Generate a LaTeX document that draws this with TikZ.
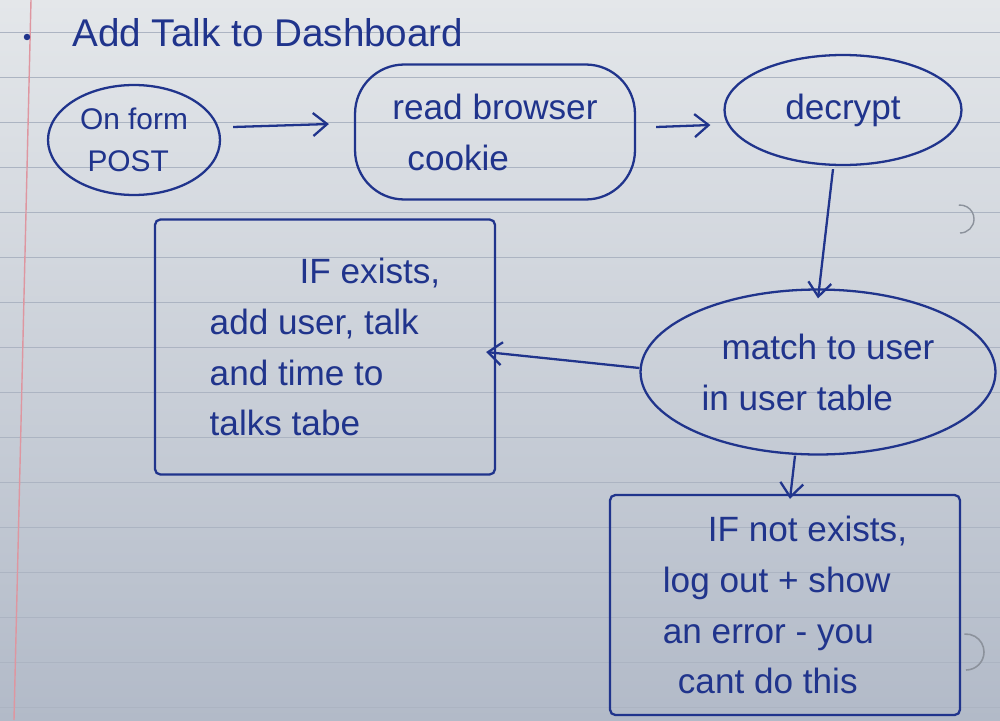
\documentclass[tikz,border=0pt]{standalone}
\usepackage{fontspec}
\setmainfont{Liberation Sans}
\usetikzlibrary{shapes.geometric,arrows.meta,calc}
\definecolor{ink}{RGB}{32,52,140}
\definecolor{papertop}{RGB}{228,231,234}
\definecolor{paperbot}{RGB}{178,186,200}
\definecolor{rule}{RGB}{172,180,194}
\definecolor{margin}{RGB}{222,150,160}
\definecolor{hole}{RGB}{140,146,156}
\tikzset{
  inkline/.style={draw=ink,line width=1.3pt},
  handtext/.style={text=ink,font=\fontsize{20}{29}\selectfont,align=left,inner sep=0pt},
  oval/.style={inkline,handtext,ellipse},
  blob/.style={inkline,handtext,rectangle,rounded corners=28pt},
  boxstep/.style={inkline,handtext,rectangle,rounded corners=3pt},
  flow/.style={draw=ink,line width=1.3pt,-{Straight Barb[length=0.28cm,width=0.46cm]}},
}
\begin{document}
\begin{tikzpicture}[x=0.02cm,y=-0.02cm]
\useasboundingbox (0,0) rectangle (1000,720);
% paper
\shade[top color=papertop,bottom color=paperbot] (0,0) rectangle (1000,720);
\foreach \yy in {32,77,122,167,212,257,302,347,392,437,482,527,572,617,662,707}
  \draw[rule,line width=0.5pt] (0,\yy) -- (1000,\yy);
\draw[margin,line width=0.8pt] (31,0) -- (14,720);
\draw[hole,line width=0.8pt] (960,233) arc[start angle=90,end angle=-95,radius=14];
\draw[hole,line width=0.9pt] (966,670) arc[start angle=90,end angle=-95,radius=18];

% title
\node[circle,fill=ink,inner sep=1.3pt] (bullet) at (27,37) {};
\node[handtext,anchor=west,font=\fontsize{22}{29}\selectfont] (title) at (72,33) {Add Talk to Dashboard};

% shapes
\node[oval,minimum width=3.44cm,minimum height=2.2cm,font=\fontsize{17}{24}\selectfont] (post) at (134,140) {On form\\\hspace*{0.15cm}POST};
\node[blob,minimum width=5.6cm,minimum height=2.7cm] (cookie) at (495,132) {read browser\\\hspace*{0.3cm}cookie};
\node[oval,minimum width=4.74cm,minimum height=2.2cm] (decrypt) at (843,110) {decrypt};
\node[oval,minimum width=7.1cm,minimum height=3.3cm] (match) at (818,372) {\hspace*{0.4cm}match to user\\in user table};
\node[boxstep,minimum width=6.8cm,minimum height=5.1cm] (exists) at (325,347)
  {\hspace*{1.8cm}IF exists,\\add user, talk\\and time to\\talks tabe};
\node[boxstep,minimum width=7cm,minimum height=4.4cm] (notexists) at (785,605)
  {\hspace*{0.9cm}IF not exists,\\log out + show\\an error - you\\\hspace*{0.3cm}cant do this};

% connectors
\draw[flow] ([xshift=0.24cm,yshift=0.26cm]post.east) -- ([xshift=-0.5cm,yshift=0.16cm]cookie.west);
\draw[flow] ([xshift=0.4cm,yshift=0.1cm]cookie.east) -- ([xshift=-0.26cm,yshift=-0.3cm]decrypt.west);
\draw[flow] ([xshift=-0.2cm,yshift=-0.06cm]decrypt.south) -- ([yshift=-0.2cm]match.north);
\draw[flow] ([yshift=0.08cm]match.west) -- ([xshift=-0.2cm,yshift=-0.1cm]exists.east);
\draw[flow] ([xshift=-0.46cm]match.south) -- ([xshift=0.1cm,yshift=-0.1cm]notexists.north);
\end{tikzpicture}
\end{document}
